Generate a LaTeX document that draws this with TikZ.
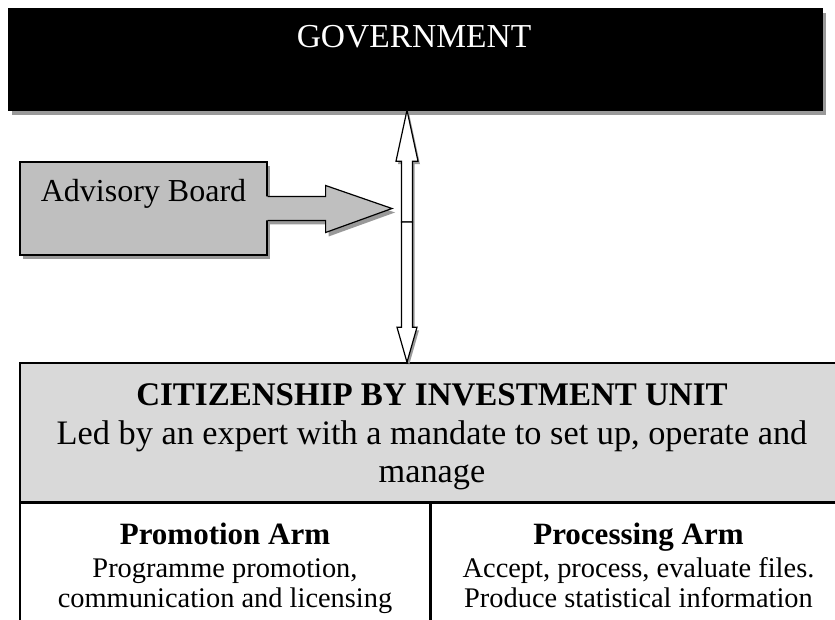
\documentclass[tikz,border=0pt]{standalone}
\usepackage{fontspec}
\setmainfont{Liberation Serif}
\usetikzlibrary{positioning, calc, shadows}

\begin{document}
\begin{tikzpicture}[
    x=1pt, y=-1pt,
    govbox/.style={fill=black, draw=black, minimum width=814pt, minimum height=102pt, inner sep=0pt,
                   drop shadow={shadow xshift=4pt, shadow yshift=-5pt, fill=black!40, opacity=1}},
    govtext/.style={text=white, font=\fontsize{33.5}{36}\selectfont},
    advbox/.style={draw, line width=1.2pt, fill=black!25, minimum width=247pt, minimum height=93pt, inner sep=0pt,
                   drop shadow={shadow xshift=3pt, shadow yshift=-4pt, fill=black!40, opacity=1}},
    advtext/.style={font=\fontsize{32}{36}\selectfont},
    advfill/.style={fill=black!25, drop shadow={shadow xshift=3pt, shadow yshift=-4pt, fill=black!40, opacity=1}},
    advline/.style={draw, line width=1.2pt},
    vblock/.style={draw, line width=1.2pt, fill=white,
                   drop shadow={shadow xshift=2pt, shadow yshift=-3pt, fill=black!40, opacity=1}},
    unitbox/.style={draw, line width=1.5pt, fill=black!15, minimum width=824pt, minimum height=139pt, inner sep=0pt},
    unittext/.style={align=center, font=\fontsize{34.3}{38.5}\selectfont},
    armbox/.style={draw, line width=1.5pt, fill=white, minimum height=118pt, inner sep=0pt},
    armtext/.style={align=center, anchor=north, font=\fontsize{28.4}{30}\selectfont},
]
\useasboundingbox (0,0) rectangle (835,620);

% === Government ===
\node[govbox] (gov) at (415,59) {};
\node[govtext] (govname) at (414,37) {GOVERNMENT};

% === Advisory Board with its block arrow ===
\node[advbox] (adv) at (143.5,208.5) {};
\node[advtext] (advname) at (143.5,194) {Advisory Board};
\coordinate (advtip) at (392,208.5);
\path[advfill] ([xshift=-2pt,yshift=12pt]adv.east) -- ([xshift=58pt,yshift=12pt]adv.east)
    -- ([xshift=58pt,yshift=23pt]adv.east) -- (advtip) -- ([xshift=58pt,yshift=-24pt]adv.east)
    -- ([xshift=58pt,yshift=-12pt]adv.east) -- ([xshift=-2pt,yshift=-12pt]adv.east) -- cycle;
\draw[advline] ([yshift=12pt]adv.east) -- ([xshift=58pt,yshift=12pt]adv.east)
    -- ([xshift=58pt,yshift=23pt]adv.east) -- (advtip) -- ([xshift=58pt,yshift=-24pt]adv.east)
    -- ([xshift=58pt,yshift=-12pt]adv.east) -- ([yshift=-12pt]adv.east);

% === Citizenship by Investment Unit ===
\node[unitbox] (unit) at (432,432.5) {};
\node[unittext] (unitname) at ([yshift=-4pt]unit.center)
    {{\fontsize{33}{38.5}\selectfont\bfseries CITIZENSHIP BY INVESTMENT UNIT}\\[1pt]
     Led by an expert with a mandate to set up, operate and\\[-1pt] manage};
\node[armbox, minimum width=410pt, anchor=north west] (promocell) at (unit.south west) {};
\node[armbox, minimum width=414pt, anchor=north west] (proccell) at (promocell.north east) {};
\node[armtext] (promo) at ([yshift=-17pt]promocell.north)
    {{\fontsize{31}{35}\selectfont\bfseries Promotion Arm}\\[3pt] Programme promotion,\\ communication and licensing};
\node[armtext] (proc) at ([yshift=-17pt]proccell.north)
    {{\fontsize{31}{35}\selectfont\bfseries Processing Arm}\\[3pt] Accept, process, evaluate files.\\ Produce statistical information};

% === Two-way link between Government and the Unit ===
\coordinate (meet) at (407,222);
\coordinate (uptip) at (gov.south -| meet);
\coordinate (downtip) at (unit.north -| meet);
\draw[vblock] ([xshift=-5.5pt]meet) -- ([xshift=-5.5pt,yshift=-51pt]uptip) -- ([xshift=-11pt,yshift=-51pt]uptip)
    -- (uptip) -- ([xshift=11pt,yshift=-51pt]uptip) -- ([xshift=5.5pt,yshift=-51pt]uptip)
    -- ([xshift=5.5pt]meet) -- cycle;
\draw[vblock] ([xshift=-5.5pt]meet) -- ([xshift=-5.5pt,yshift=35pt]downtip) -- ([xshift=-10pt,yshift=35pt]downtip)
    -- (downtip) -- ([xshift=10pt,yshift=35pt]downtip) -- ([xshift=5.5pt,yshift=35pt]downtip)
    -- ([xshift=5.5pt]meet) -- cycle;

\end{tikzpicture}
\end{document}
